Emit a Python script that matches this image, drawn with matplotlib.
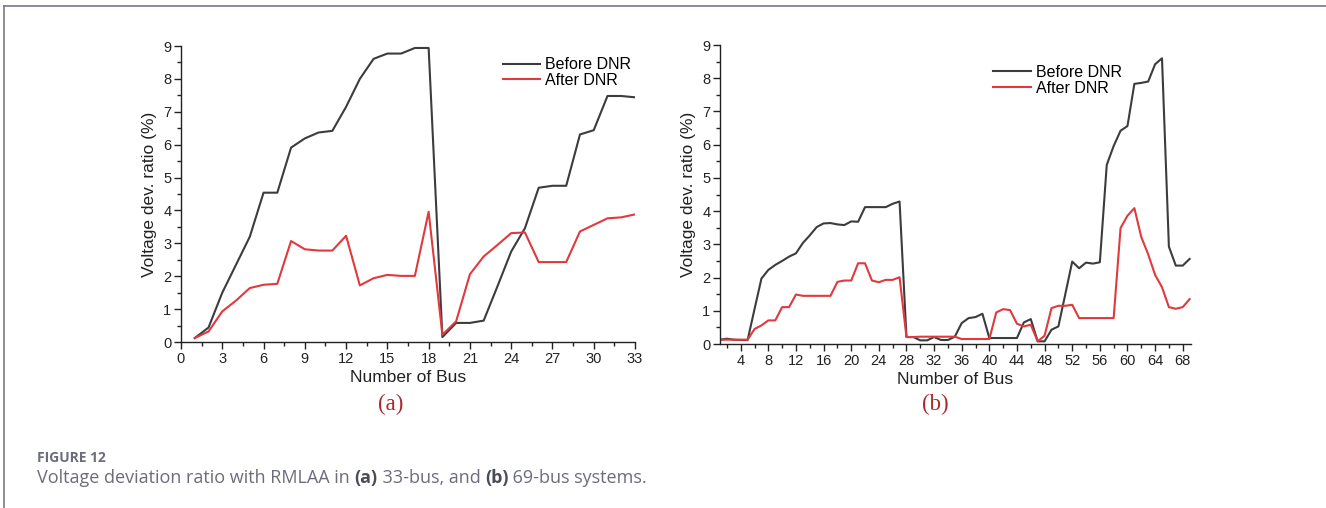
import numpy as np
import matplotlib
matplotlib.use("Agg")
import matplotlib.pyplot as plt
from matplotlib.ticker import MultipleLocator
from matplotlib.lines import Line2D

plt.rcParams['font.family'] = ['Liberation Sans', 'DejaVu Sans']

# (a) 33-bus system
bus_33 = np.arange(1, 34)
before_33 = [0.12, 0.44, 1.5, 2.35, 3.2, 4.54, 4.54, 5.91, 6.19, 6.37, 6.42,
             7.15, 8.0, 8.61, 8.77, 8.77, 8.94, 8.94, 0.15, 0.58, 0.58, 0.65,
             1.69, 2.75, 3.46, 4.69, 4.75, 4.75, 6.31, 6.44, 7.48, 7.48, 7.44]
after_33 = [0.12, 0.32, 0.93, 1.26, 1.64, 1.74, 1.77, 3.07, 2.82, 2.78, 2.78,
            3.23, 1.72, 1.94, 2.04, 2.01, 2.01, 3.96, 0.22, 0.63, 2.06, 2.6,
            2.95, 3.31, 3.33, 2.43, 2.43, 2.43, 3.36, 3.56, 3.76, 3.79, 3.88]

# (b) 69-bus system
bus_69 = np.arange(1, 70)
before_69 = [0.13, 0.16, 0.13, 0.12, 0.12, 1.05, 1.97, 2.23, 2.38, 2.5,
             2.63, 2.73, 3.04, 3.27, 3.52, 3.63, 3.64, 3.6, 3.58, 3.69,
             3.68, 4.12, 4.12, 4.12, 4.12, 4.22, 4.29, 0.21, 0.21, 0.11,
             0.11, 0.21, 0.12, 0.12, 0.22, 0.63, 0.78, 0.81, 0.91, 0.18,
             0.18, 0.18, 0.18, 0.18, 0.65, 0.75, 0.08, 0.08, 0.43, 0.53,
             1.5, 2.48, 2.28, 2.45, 2.42, 2.46, 5.39, 5.96, 6.42, 6.56,
             7.83, 7.86, 7.9, 8.42, 8.6, 2.93, 2.36, 2.36, 2.56]
after_69 = [0.13, 0.13, 0.13, 0.13, 0.13, 0.45, 0.56, 0.71, 0.71, 1.11,
            1.11, 1.49, 1.45, 1.45, 1.45, 1.45, 1.45, 1.87, 1.91, 1.91,
            2.43, 2.43, 1.91, 1.86, 1.93, 1.93, 2.01, 0.21, 0.21, 0.22,
            0.22, 0.22, 0.22, 0.22, 0.22, 0.15, 0.15, 0.15, 0.15, 0.15,
            0.95, 1.05, 1.02, 0.61, 0.53, 0.58, 0.08, 0.25, 1.08, 1.15,
            1.15, 1.18, 0.78, 0.78, 0.78, 0.78, 0.78, 0.78, 3.49, 3.86,
            4.09, 3.22, 2.7, 2.08, 1.71, 1.11, 1.06, 1.11, 1.35]

W, H = 1326, 508
BLACK = '#3c3c3c'
RED = '#e0393e'

fig = plt.figure(figsize=(W / 100, H / 100), dpi=100)


def box(x0, y0, x1, y1):
    # pixel box (top-left origin) -> figure fraction rect
    return [x0 / W, 1 - y1 / H, (x1 - x0) / W, (y1 - y0) / H]


def style_axes(ax, xmaj, xmin):
    for s in ['top', 'right']:
        ax.spines[s].set_visible(False)
    for s in ['left', 'bottom']:
        ax.spines[s].set_linewidth(1.0)
        ax.spines[s].set_color('#222222')
    ax.xaxis.set_major_locator(MultipleLocator(xmaj))
    ax.xaxis.set_minor_locator(MultipleLocator(xmin))
    ax.yaxis.set_major_locator(MultipleLocator(1))
    ax.yaxis.set_minor_locator(MultipleLocator(0.5))
    ax.tick_params(which='major', direction='out', length=5, width=1,
                   labelsize=10.5, colors='#222222', pad=2)
    ax.tick_params(which='minor', direction='out', length=3, width=1,
                   colors='#222222')
    ax.set_ylim(0, 9)
    ax.set_xlabel('Number of Bus', fontsize=12.5, color='#222222', labelpad=3)
    ax.set_ylabel('Voltage dev. ratio (%)', fontsize=12.5, color='#222222',
                  labelpad=4)


def add_legend(ax, anchor):
    ax.legend(loc='upper left', bbox_to_anchor=anchor, frameon=False,
              fontsize=11.5, handlelength=2.35, handletextpad=0.3,
              labelspacing=0.05, borderpad=0, borderaxespad=0)


ax1 = fig.add_axes(box(181, 46, 635, 342))
ax1.plot(bus_33, before_33, color=BLACK, lw=1.5, label='Before DNR')
ax1.plot(bus_33, after_33, color=RED, lw=1.5, label='After DNR')
style_axes(ax1, 3, 1.5)
ax1.set_xlim(0, 33)
add_legend(ax1, (0.709, 0.962))

ax2 = fig.add_axes(box(720, 45, 1191, 344))
ax2.plot(bus_69, before_69, color=BLACK, lw=1.5, label='Before DNR')
ax2.plot(bus_69, after_69, color=RED, lw=1.5, label='After DNR')
style_axes(ax2, 4, 2)
ax2.set_xlim(1, 69.2)
add_legend(ax2, (0.58, 0.934))

# panel letters
fig.text(391 / W, 1 - 404 / H, '(a)', family='Liberation Serif', fontsize=16.5,
         color='#a82a2e', ha='center', va='center')
fig.text(935 / W, 1 - 404 / H, '(b)', family='Liberation Serif', fontsize=16.5,
         color='#a82a2e', ha='center', va='center')

# frame lines of the page
fig.add_artist(Line2D([4 / W, 1], [1 - 6 / H, 1 - 6 / H], color='#7a7a88', lw=1.2))
fig.add_artist(Line2D([4 / W, 4 / W], [0, 1 - 6 / H], color='#7a7a88', lw=1.2))

# caption
cap_font = ['Open Sans', 'DejaVu Sans']
fig.text(37 / W, 1 - 462 / H, 'FIGURE 12', family=cap_font, fontsize=10,
         weight='bold', color='#6b6d7a', va='baseline')

pieces = [('Voltage deviation ratio with RMLAA in ', 'normal'),
          ('(a)', 'bold'),
          (' 33-bus, and ', 'normal'),
          ('(b)', 'bold'),
          (' 69-bus systems.', 'normal')]

fig.canvas.draw()
renderer = fig.canvas.get_renderer()
x_px = 37
for txt, wt in pieces:
    t = fig.text(x_px / W, 1 - 483 / H, txt, family=cap_font, fontsize=13,
                 weight=wt, color='#4a4c58' if wt == 'bold' else '#6b6d7a',
                 va='baseline')
    x_px = t.get_window_extent(renderer).x1

fig.savefig('out.png', dpi=100)
